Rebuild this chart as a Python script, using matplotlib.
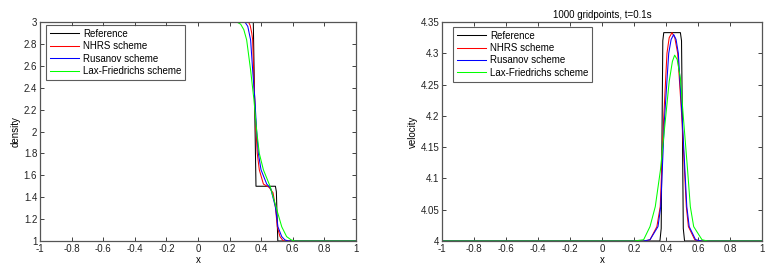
import matplotlib
matplotlib.use("Agg")
import matplotlib.pyplot as plt
from matplotlib.ticker import FuncFormatter

plt.rcParams['font.family'] = ['Liberation Sans', 'DejaVu Sans']
plt.rcParams['font.size'] = 7

labels = ["Reference", "NHRS scheme", "Rusanov scheme", "Lax-Friedrichs scheme"]
colors = ["#000000", "#ff0000", "#0000ff", "#00ff00"]

# ---- density data ----
rho_ref_x = [-1, 0.35, 0.367, 0.49, 0.496, 0.505, 1]
rho_ref_y = [3, 3, 1.5, 1.5, 1.45, 1.0, 1]

rho_nhrs_x = [-1, 0.319, 0.33, 0.34, 0.346, 0.352, 0.359, 0.367, 0.375, 0.388, 0.414, 0.45, 0.475, 0.49, 0.502, 0.519, 0.54, 0.56, 1]
rho_nhrs_y = [3, 3, 2.97, 2.9, 2.836, 2.56, 2.29, 2.01, 1.80, 1.65, 1.52, 1.49, 1.44, 1.31, 1.13, 1.04, 1.0, 1.0, 1]

rho_rus_x = [-1, 0.297, 0.315, 0.333, 0.346, 0.36, 0.371, 0.382, 0.399, 0.435, 0.46, 0.49, 0.506, 0.53, 0.55, 0.572, 1]
rho_rus_y = [3, 3, 2.96, 2.836, 2.56, 2.29, 2.01, 1.80, 1.65, 1.52, 1.48, 1.31, 1.13, 1.04, 1.01, 1.0, 1]

rho_lf_x = [-1, 0.245, 0.27, 0.29, 0.308, 0.333, 0.354, 0.371, 0.388, 0.414, 0.456, 0.494, 0.53, 0.561, 0.59, 0.614, 0.656, 1]
rho_lf_y = [3, 3, 2.98, 2.93, 2.836, 2.56, 2.29, 2.01, 1.80, 1.65, 1.5, 1.31, 1.13, 1.04, 1.01, 1.0, 1.0, 1]

# ---- velocity data ----
u_ref_x = [-1, 0.362, 0.37, 0.376, 0.38, 0.386, 0.49, 0.497, 0.502, 0.508, 0.516, 1]
u_ref_y = [4, 4, 4.02, 4.2, 4.32, 4.333, 4.333, 4.32, 4.2, 4.02, 4, 4]

u_nhrs_x = [-1, 0.27, 0.30, 0.343, 0.364, 0.385, 0.406, 0.42, 0.4375, 0.455, 0.473, 0.50, 0.527, 0.54, 0.58, 0.61, 1]
u_nhrs_y = [4, 4, 4.002, 4.023, 4.055, 4.193, 4.3, 4.325, 4.333, 4.325, 4.3, 4.193, 4.055, 4.023, 4.002, 4, 4]

u_rus_x = [-1, 0.26, 0.30, 0.35, 0.367, 0.39, 0.417, 0.432, 0.448, 0.463, 0.477, 0.502, 0.53, 0.545, 0.585, 0.62, 1]
u_rus_y = [4, 4, 4.002, 4.023, 4.055, 4.193, 4.3, 4.322, 4.33, 4.322, 4.3, 4.193, 4.055, 4.023, 4.002, 4, 4]

u_lf_x = [-1, 0.2, 0.26, 0.30, 0.333, 0.365, 0.396, 0.42, 0.44, 0.454, 0.47, 0.49, 0.51, 0.535, 0.552, 0.573, 0.625, 0.66, 1]
u_lf_y = [4, 4, 4.002, 4.023, 4.055, 4.113, 4.193, 4.255, 4.287, 4.297, 4.29, 4.26, 4.193, 4.113, 4.055, 4.023, 4.002, 4, 4]

x_ticks = [-1, -0.8, -0.6, -0.4, -0.2, 0, 0.2, 0.4, 0.6, 0.8, 1]
rho_ticks = [1, 1.2, 1.4, 1.6, 1.8, 2, 2.2, 2.4, 2.6, 2.8, 3]
u_ticks = [4, 4.05, 4.1, 4.15, 4.2, 4.25, 4.3, 4.35]

fig = plt.figure(figsize=(7.76, 2.70), dpi=100)
ax1 = fig.add_axes([40/776, 1-241/270, 316/776, 219/270])
ax2 = fig.add_axes([442/776, 1-241/270, 320/776, 219/270])

fmt = FuncFormatter(lambda v, p: "%g" % round(v, 4))

def style(ax, yticks, ylim):
    ax.set_xlim(-1, 1)
    ax.set_ylim(*ylim)
    ax.set_xticks(x_ticks)
    ax.set_yticks(yticks)
    ax.xaxis.set_major_formatter(fmt)
    ax.yaxis.set_major_formatter(fmt)
    ax.tick_params(direction='in', length=3, width=0.6, top=True, right=True,
                   labelsize=7, pad=2, colors='#222222')
    for s in ax.spines.values():
        s.set_color('#555555')
        s.set_linewidth(0.9)
        s.set_zorder(5)
    ax.set_xlabel('x', fontsize=7, labelpad=1)

series_rho = [(rho_ref_x, rho_ref_y), (rho_nhrs_x, rho_nhrs_y), (rho_rus_x, rho_rus_y), (rho_lf_x, rho_lf_y)]
series_u = [(u_ref_x, u_ref_y), (u_nhrs_x, u_nhrs_y), (u_rus_x, u_rus_y), (u_lf_x, u_lf_y)]

for (x, y), c, l in zip(series_rho, colors, labels):
    ax1.plot(x, y, color=c, lw=0.75, label=l)
for (x, y), c, l in zip(series_u, colors, labels):
    ax2.plot(x, y, color=c, lw=0.75, label=l)

style(ax1, rho_ticks, (1, 3))
style(ax2, u_ticks, (4, 4.35))
ax1.set_ylabel('density', fontsize=7, labelpad=2)
ax2.set_ylabel('velocity', fontsize=7, labelpad=2)
ax2.set_title('1000 gridpoints, t=0.1s', fontsize=7, pad=3)

for ax, anchor in ((ax1, (6/316, 1-3/219)), (ax2, (11/320, 1-4.7/219))):
    leg = ax.legend(loc='upper left', bbox_to_anchor=anchor, borderaxespad=0,
                    fancybox=False, fontsize=7, handlelength=3.0, handletextpad=0.4,
                    labelspacing=0.25, borderpad=0.4)
    leg.get_frame().set_edgecolor('#333333')
    leg.get_frame().set_linewidth(0.8)
    leg.set_zorder(6)

fig.savefig('out.png', dpi=100)
